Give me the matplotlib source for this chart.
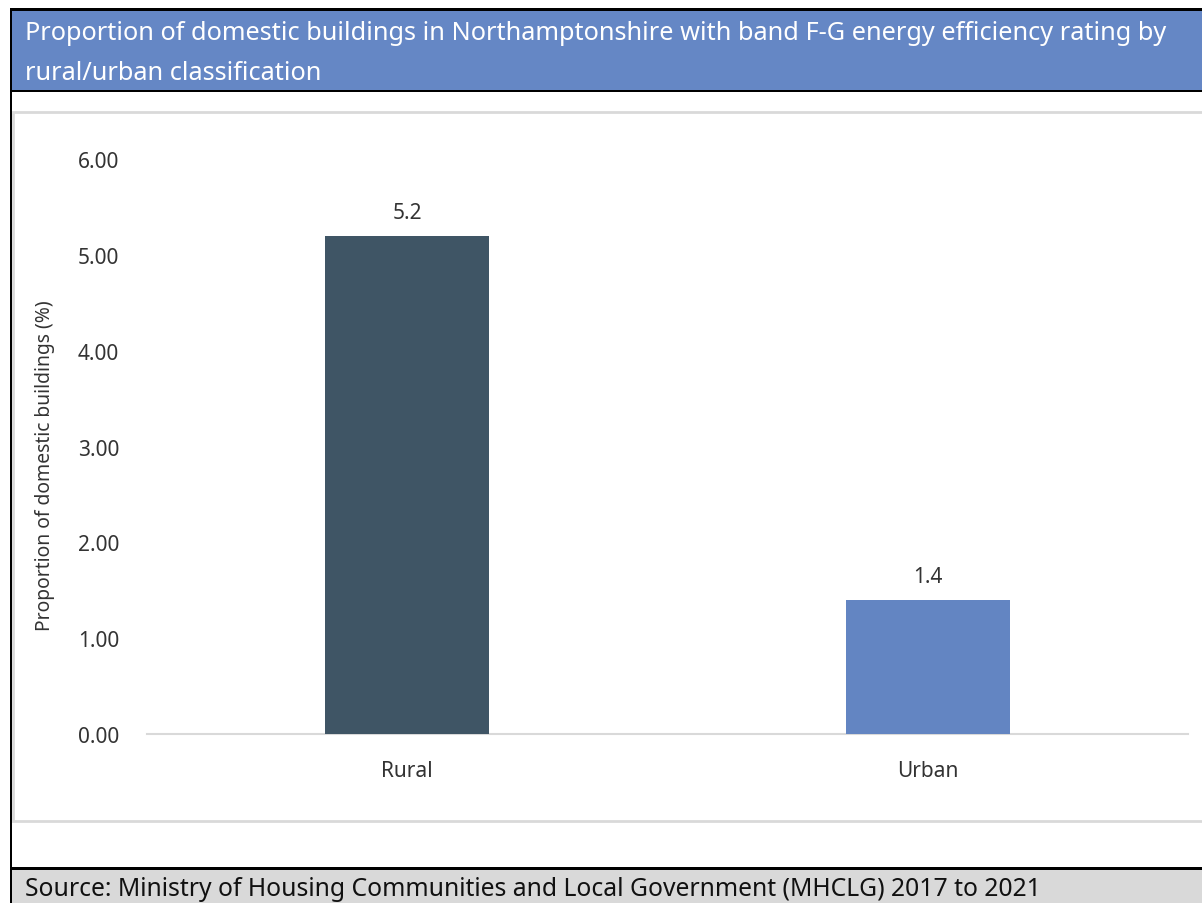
import matplotlib
matplotlib.use("Agg")
import matplotlib.pyplot as plt
from matplotlib.patches import Rectangle

categories = ["Rural", "Urban"]
values = [5.2, 1.4]
bar_colors = ["#3F5565", "#6385C2"]
yticks = [0, 1, 2, 3, 4, 5, 6]
title_lines = ["Proportion of domestic buildings in Northamptonshire with band F-G energy efficiency rating by",
               "rural/urban classification"]
ylabel = "Proportion of domestic buildings (%)"
source = "Source: Ministry of Housing Communities and Local Government (MHCLG) 2017 to 2021"

W, H = 1202, 904
fig = plt.figure(figsize=(W / 100, H / 100), dpi=100)
plt.rcParams['font.family'] = ['Noto Sans', 'DejaVu Sans']

def fx(x):
    return x / W

def fy(y):
    return 1 - y / H

def rect(x0, y0, x1, y1, fc, ec='none', lw=0, z=0):
    fig.patches.append(Rectangle((fx(x0), fy(y1)), fx(x1) - fx(x0), fy(y0) - fy(y1),
                                 transform=fig.transFigure, facecolor=fc, edgecolor=ec,
                                 linewidth=lw, zorder=z))

# outer black lines
rect(10, 9, 1202, 12, '#000000')
rect(10, 9, 12, 904, '#000000')
# title box
rect(12, 12, 1202, 91, '#6587C5')
rect(12, 91, 1202, 93, '#000000')
# panel
rect(12.5, 113, 1203, 822, 'white', ec='#D9D9D9', lw=2)
# source box
rect(12, 868, 1202, 871, '#000000')
rect(12, 871, 1202, 904, '#D9D9D9')

fig.text(fx(25), fy(34), title_lines[0], color='white', fontsize=18.2, va='center', ha='left')
fig.text(fx(25), fy(73), title_lines[1], color='white', fontsize=18.2, va='center', ha='left')
fig.text(fx(25), fy(890), source, color='#111111', fontsize=17.8, va='center', ha='left')

ax = fig.add_axes([fx(147), fy(735), fx(1188) - fx(147), fy(160) - fy(735)])
ax.set_zorder(5)
ax.set_facecolor('none')
x = list(range(len(categories)))
bars = ax.bar(x, values, width=0.315, color=bar_colors, zorder=3)
ax.set_xlim(-0.5, len(categories) - 0.5)
ax.set_ylim(0, 6)
ax.set_yticks(yticks)
ax.set_yticklabels([f"{v:.2f}" for v in yticks], fontsize=15, color='#333333')
ax.set_xticks(x)
ax.set_xticklabels(categories, fontsize=15, color='#333333')
ax.tick_params(axis='y', length=0, pad=20)
ax.tick_params(axis='x', length=0, pad=19)
for s in ['top', 'right', 'left']:
    ax.spines[s].set_visible(False)
ax.spines['bottom'].set_color('#D9D9D9')
ax.spines['bottom'].set_linewidth(1.5)
for b, v in zip(bars, values):
    ax.annotate(f"{v:.1f}", (b.get_x() + b.get_width() / 2, v), xytext=(0, 17),
                textcoords='offset points', ha='center', va='center', fontsize=15, color='#333333')
fig.text(fx(45), fy(466), ylabel, rotation=90, fontsize=13.9, color='#333333', ha='center', va='center')

fig.savefig('out.png', dpi=100)
